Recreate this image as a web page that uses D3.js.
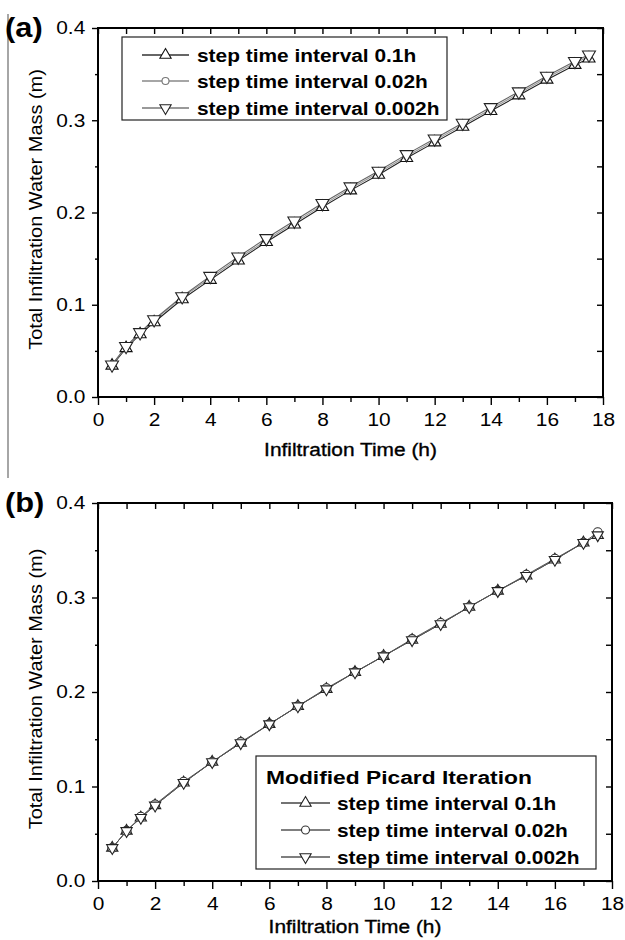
<!DOCTYPE html>
<html>
<head>
<meta charset="utf-8">
<script src="https://cdn.jsdelivr.net/npm/d3@7"></script>
<style>
  body { margin: 0; background: #fff; }
  svg { display: block; font-family: "Liberation Sans", Arial, sans-serif; }
</style>
</head>
<body>
<svg id="chart" width="625" height="940"></svg>
<script>
// time points (h)
const times = [0.5, 1, 1.5, 2, 3, 4, 5, 6, 7, 8, 9, 10, 11, 12, 13, 14, 15, 16, 17, 17.5]

// panel (a) - total infiltration water mass (m)
const a_dt01 = [0.034, 0.053, 0.068, 0.081, 0.106, 0.127, 0.148, 0.168, 0.187, 0.206, 0.224, 0.241, 0.259, 0.276, 0.293, 0.310, 0.327, 0.344, 0.360, 0.367]
const a_dt002 = [0.035, 0.054, 0.069, 0.083, 0.108, 0.129, 0.150, 0.170, 0.189, 0.208, 0.226, 0.243, 0.261, 0.278, 0.295, 0.312, 0.329, 0.346, 0.362, 0.369]
const a_dt0002 = [0.035, 0.055, 0.070, 0.084, 0.109, 0.131, 0.152, 0.172, 0.191, 0.210, 0.228, 0.245, 0.263, 0.280, 0.297, 0.314, 0.331, 0.348, 0.364, 0.371]

// panel (b) - modified Picard iteration
const b_dt01 = [0.035, 0.053, 0.067, 0.080, 0.104, 0.126, 0.146, 0.166, 0.185, 0.203, 0.221, 0.238, 0.255, 0.272, 0.290, 0.307, 0.323, 0.340, 0.358, 0.366]
const b_dt002 = [0.035, 0.053, 0.068, 0.081, 0.105, 0.126, 0.147, 0.166, 0.185, 0.204, 0.221, 0.238, 0.256, 0.273, 0.290, 0.307, 0.324, 0.341, 0.358, 0.369]
const b_dt0002 = [0.035, 0.053, 0.067, 0.080, 0.104, 0.126, 0.146, 0.166, 0.185, 0.203, 0.221, 0.238, 0.255, 0.272, 0.290, 0.307, 0.323, 0.340, 0.358, 0.366]

const seriesNames = ['step time interval 0.1h', 'step time interval 0.02h', 'step time interval 0.002h']
const xMajor = [0, 2, 4, 6, 8, 10, 12, 14, 16, 18]
const xMinor = [1, 3, 5, 7, 9, 11, 13, 15, 17]
const yMajor = [0.0, 0.1, 0.2, 0.3, 0.4]
const yMinor = [0.05, 0.15, 0.25, 0.35]

const SX = 1.16   // the source text is a bit wide
const svg = d3.select('#chart')

// gray edge line from the scan
svg.append('line')
    .attr('x1', 8).attr('x2', 8).attr('y1', 14).attr('y2', 478)
    .attr('stroke', '#888').attr('stroke-width', 1.5)

function triPath(r, down) {
    let s = down ? -1 : 1
    let w = r * 0.866
    return `M0,${-r * s}L${w},${r * 0.5 * s}L${-w},${r * 0.5 * s}Z`
}

function drawMarker(g, kind, x, y, size, color) {
    if (kind === 'circle') {
        g.append('circle').attr('cx', x).attr('cy', y).attr('r', size)
            .attr('fill', 'white').attr('stroke', color).attr('stroke-width', 1.1)
    } else {
        g.append('path').attr('d', triPath(size, kind === 'down'))
            .attr('transform', `translate(${x},${y})`)
            .attr('fill', 'white').attr('stroke', color).attr('stroke-width', 1.1)
    }
}

function stretchText(g, x, y, str, size, weight, anchor, sx) {
    return g.append('text')
        .attr('transform', `translate(${x},${y}) scale(${sx || SX},1)`)
        .attr('font-size', size + 'px')
        .attr('font-weight', weight)
        .attr('text-anchor', anchor)
        .attr('fill', '#000')
        .text(str)
}

function drawPanel(cfg) {
    let g = svg.append('g')
    let x = d3.scaleLinear().domain([0, 18]).range([cfg.left, cfg.right])
    let y = d3.scaleLinear().domain([0, 0.4]).range([cfg.bottom, cfg.top])

    // series
    cfg.series.forEach(s => {
        let line = d3.line().x((d, i) => x(times[i])).y(d => y(d))
        g.append('path').datum(s.values)
            .attr('d', line).attr('fill', 'none')
            .attr('stroke', s.line).attr('stroke-width', s.width)
    })
    cfg.series.forEach(s => {
        s.values.forEach((v, i) => drawMarker(g, s.marker, x(times[i]), y(v), s.size, s.color))
    })

    // axes
    let bottom = g.append('g').attr('transform', `translate(0,${cfg.bottom})`)
    bottom.call(d3.axisBottom(x).tickValues(xMajor).tickSize(8).tickPadding(8).tickFormat(d3.format('d')))
    bottom.append('g').call(d3.axisBottom(x).tickValues(xMinor).tickSize(5).tickFormat(''))

    let top = g.append('g').attr('transform', `translate(0,${cfg.top})`)
    top.call(d3.axisTop(x).tickValues(xMajor.concat(xMinor)).tickSize(-6).tickFormat(''))

    let left = g.append('g').attr('transform', `translate(${cfg.left},0)`)
    left.call(d3.axisLeft(y).tickValues(yMajor).tickSize(6).tickPadding(5).tickFormat(d3.format('.1f')))
    left.append('g').call(d3.axisLeft(y).tickValues(yMinor).tickSize(3).tickFormat(''))

    let right = g.append('g').attr('transform', `translate(${cfg.right},0)`)
    right.call(d3.axisRight(y).tickValues(yMajor.concat(yMinor)).tickSize(-6).tickFormat(''))

    g.selectAll('.domain').remove()
    g.selectAll('.tick line').attr('stroke', '#000').attr('stroke-width', 1.4)
    g.selectAll('.tick text')
        .attr('font-size', '18px')
        .attr('font-family', '"Liberation Sans", Arial, sans-serif')
        .attr('fill', '#000')
        .attr('transform', `scale(${SX},1)`)

    // frame
    g.append('rect')
        .attr('x', cfg.left).attr('y', cfg.top)
        .attr('width', cfg.right - cfg.left).attr('height', cfg.bottom - cfg.top)
        .attr('fill', 'none').attr('stroke', '#000').attr('stroke-width', 2)

    // titles
    stretchText(g, (cfg.left + cfg.right) / 2, cfg.bottom + cfg.xTitleGap, 'Infiltration Time (h)', 18, 'normal', 'middle')
        .attr('stroke', '#000').attr('stroke-width', 0.35)
    g.append('text')
        .attr('transform', `translate(42,${(cfg.top + cfg.bottom) / 2 - 3}) rotate(-90) scale(1.05,1)`)
        .attr('font-size', '19px')
        .attr('text-anchor', 'middle')
        .text('Total Infiltration Water Mass (m)')
    stretchText(g, 5, cfg.top + 9, cfg.label, 28, 'bold', 'start', 1.1)

    // legend
    let L = cfg.legend
    g.append('rect')
        .attr('x', L.x0).attr('y', L.y0)
        .attr('width', L.x1 - L.x0).attr('height', L.y1 - L.y0)
        .attr('fill', 'white').attr('stroke', '#222').attr('stroke-width', 1.2)
    if (L.title) {
        stretchText(g, L.titleX, L.titleY, L.title, 19, 'bold', 'start', 1.2)
    }
    cfg.series.forEach((s, i) => {
        let ry = L.rows[i]
        g.append('line')
            .attr('x1', L.lineX0).attr('x2', L.lineX1).attr('y1', ry).attr('y2', ry)
            .attr('stroke', s.legendLine).attr('stroke-width', 1.3)
        drawMarker(g, s.marker, (L.lineX0 + L.lineX1) / 2, ry, s.legendSize, s.color)
        stretchText(g, L.textX, ry + 6.5, seriesNames[i], 18, 'bold', 'start')
    })
}

drawPanel({
    label: '(a)',
    left: 98, right: 603, top: 28, bottom: 397, xTitleGap: 59,
    series: [
        {values: a_dt01, marker: 'up', size: 7, color: '#111', line: '#222', width: 1.1, legendLine: '#333', legendSize: 6.5},
        {values: a_dt002, marker: 'circle', size: 3, color: '#777', line: '#999', width: 1.1, legendLine: '#888', legendSize: 3.5},
        {values: a_dt0002, marker: 'down', size: 7.5, color: '#222', line: '#666', width: 1.1, legendLine: '#777', legendSize: 6.5}
    ],
    legend: {x0: 122, y0: 37, x1: 447, y1: 120, rows: [55, 81, 108], lineX0: 142, lineX1: 189, textX: 197}
})

drawPanel({
    label: '(b)',
    left: 98, right: 612, top: 503, bottom: 881, xTitleGap: 52,
    series: [
        {values: b_dt01, marker: 'up', size: 6.5, color: '#222', line: '#444', width: 1, legendLine: '#444', legendSize: 6.5},
        {values: b_dt002, marker: 'circle', size: 4.5, color: '#333', line: '#555', width: 1, legendLine: '#555', legendSize: 4},
        {values: b_dt0002, marker: 'down', size: 6.5, color: '#222', line: '#555', width: 1, legendLine: '#555', legendSize: 6.5}
    ],
    legend: {x0: 256, y0: 756, x1: 596, y1: 869, title: 'Modified Picard Iteration', titleX: 266, titleY: 784,
        rows: [803, 830, 857], lineX0: 281, lineX1: 330, textX: 337}
})
</script>
</body>
</html>
